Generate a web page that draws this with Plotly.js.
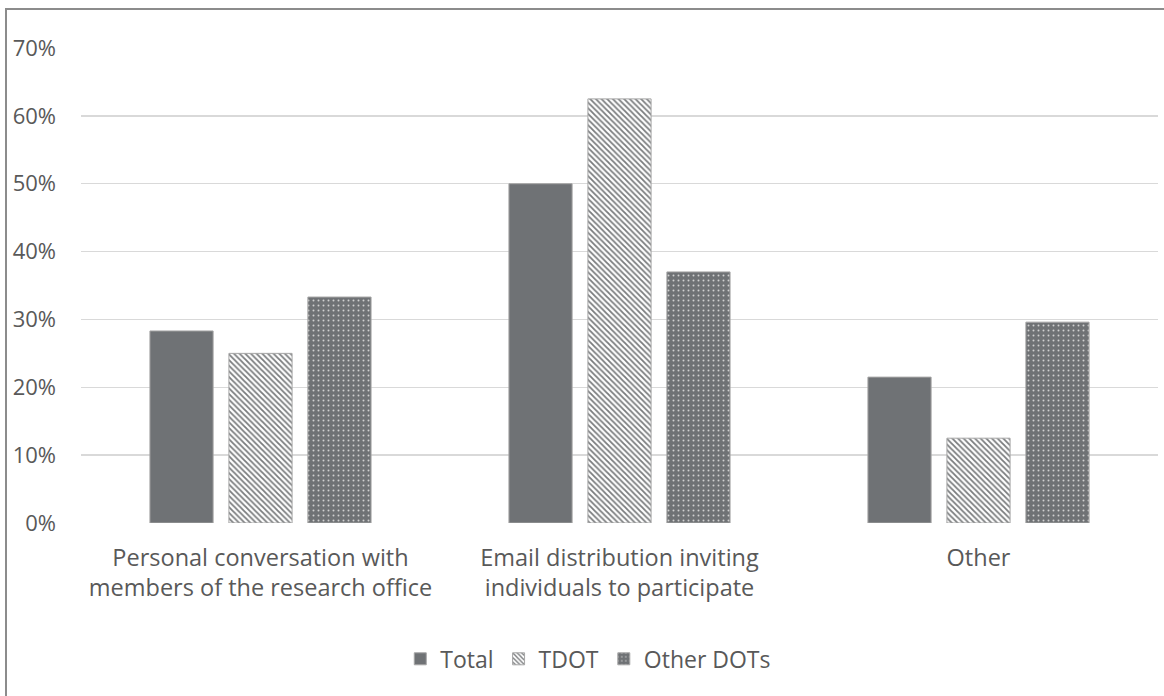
<!DOCTYPE html>
<html>
<head>
<meta charset="utf-8">
<script src="https://cdn.plot.ly/plotly-3.0.1.min.js"></script>
<style>
  html, body { margin: 0; padding: 0; background: #fff; overflow: hidden; }
  #chart { position: absolute; left: 0; top: 0; width: 1164px; height: 696px; }
  #frame { position: absolute; left: 5px; top: 8px; width: 1200px; height: 800px;
           border-left: 2px solid #8c8c8c; border-top: 2px solid #8c8c8c; pointer-events: none; }
</style>
</head>
<body>
<div id="chart"></div>
<div id="frame"></div>
<script>
const categories = [
  "Personal conversation with<br>members of the research office",
  "Email distribution inviting<br>individuals to participate",
  "Other"
];
const totalValues = [0.283, 0.50, 0.215];
const tdotValues = [0.25, 0.625, 0.125];
const otherDotsValues = [0.333, 0.37, 0.296];
const seriesNames = ["Total", "TDOT", "Other DOTs"];
const tickValues = [0, 0.1, 0.2, 0.3, 0.4, 0.5, 0.6, 0.7];
const tickLabels = ["0%", "10%", "20%", "30%", "40%", "50%", "60%", "70%"];

const barGray = "#6f7275";
const edge = { color: "#a6a6a6", width: 1 };

const traces = [
  {
    type: "bar", name: seriesNames[0], x: categories, y: totalValues,
    marker: { color: barGray, line: edge },
    hoverinfo: "skip"
  },
  {
    type: "bar", name: seriesNames[1], x: categories, y: tdotValues,
    marker: {
      color: barGray, line: edge,
      pattern: { shape: "\\", fillmode: "replace", fgcolor: "#7a7c7e", bgcolor: "#ffffff", size: 4, solidity: 0.45 }
    },
    hoverinfo: "skip"
  },
  {
    type: "bar", name: seriesNames[2], x: categories, y: otherDotsValues,
    marker: {
      color: barGray, line: edge,
      pattern: { shape: ".", fillmode: "replace", fgcolor: "#d0d0d0", bgcolor: barGray, size: 5, solidity: 0.12 }
    },
    hoverinfo: "skip"
  }
];

const layout = {
  width: 1164, height: 696,
  paper_bgcolor: "#ffffff", plot_bgcolor: "#ffffff",
  margin: { l: 81, r: 6, t: 48, b: 173 },
  font: { family: "'Open Sans', sans-serif", size: 22, color: "#595959" },
  barmode: "group",
  bargap: 0.34,
  bargroupgap: 0.2,
  showlegend: true,
  legend: {
    orientation: "h", x: 0.471, xanchor: "center", y: -0.286, yanchor: "middle",
    font: { size: 23, color: "#595959" }, traceorder: "normal",
    itemwidth: 30
  },
  xaxis: {
    type: "category", showgrid: false, zeroline: false, showline: false,
    ticks: "", ticklabelstandoff: 18,
    tickfont: { size: 23.5, color: "#595959" }, fixedrange: true
  },
  yaxis: {
    range: [0, 0.7], tickvals: tickValues, ticktext: tickLabels,
    showgrid: true, gridcolor: "#d9d9d9", gridwidth: 1.5,
    zeroline: false, showline: false, ticks: "",
    ticklabelstandoff: 24,
    tickfont: { size: 22, color: "#595959" }, fixedrange: true
  }
};

Plotly.newPlot("chart", traces, layout, { displayModeBar: false, staticPlot: true });
</script>
</body>
</html>
